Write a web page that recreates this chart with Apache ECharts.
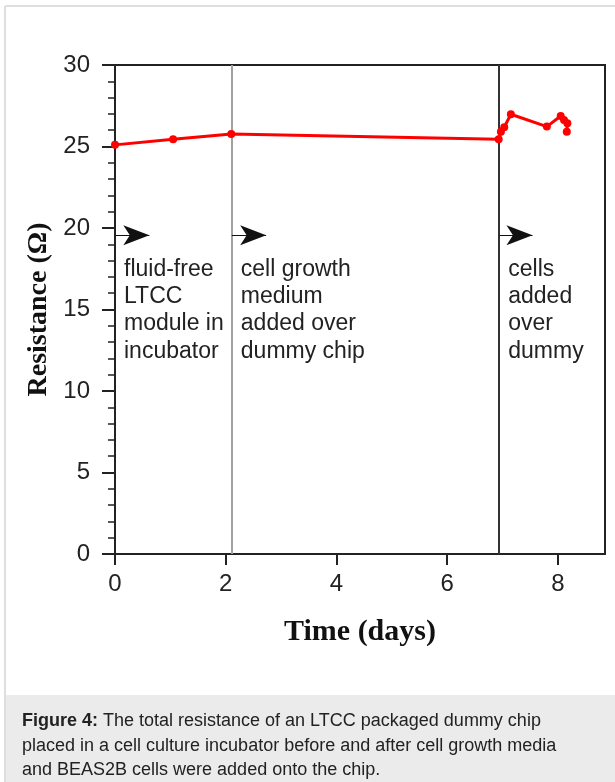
<!DOCTYPE html>
<html><head><meta charset="utf-8">
<script src="https://cdn.jsdelivr.net/npm/echarts@6/dist/echarts.min.js"></script>
<style>html,body{margin:0;padding:0;background:#fff}#c{width:615px;height:782px}</style>
</head><body><div id="c"></div><script>
// ---- data ----
const days = [0, 1.05, 2.1, 6.93, 6.97, 7.03, 7.15, 7.80, 8.05, 8.11, 8.17, 8.16];
const resistance = [25.1, 25.45, 25.77, 25.45, 25.9, 26.18, 26.98, 26.22, 26.87, 26.63, 26.43, 25.91];
const xTicks = [0, 2, 4, 6, 8];
const eventDays = [2.11, 6.94];
const eventColors = ['#a0a0a0', '#333333'];
const arrowStarts = [0, 2.11, 6.94];
const arrowEnds = [0.62, 2.73, 7.54];
const arrowLevel = 19.55;
const noteTopLevel = 18.3;
const noteLines = [
  ['fluid-free', 'LTCC', 'module in', 'incubator'],
  ['cell growth', 'medium', 'added over', 'dummy chip'],
  ['cells', 'added', 'over', 'dummy']
];
const xName = 'Time (days)';
const yName = 'Resistance (\u03A9)';
const captionBold = 'Figure 4:';
const captionRest = [' The total resistance of an LTCC packaged dummy chip',
  'placed in a cell culture incubator before and after cell growth media',
  'and BEAS2B cells were added onto the chip.'];

const chart = echarts.init(document.getElementById('c'), null, {renderer: 'canvas'});
const AX = '#222';
const sans = '"Liberation Sans", Arial, sans-serif';
const serif = '"Liberation Serif", "Times New Roman", serif';

const option = {
  animation: false,
  backgroundColor: '#fff',
  grid: {left: 115, top: 65, right: 10, bottom: 228, show: true, borderColor: AX, borderWidth: 2, backgroundColor: 'transparent'},
  xAxis: {
    type: 'value', min: 0, max: 8.85, interval: 2,
    axisLine: {show: true, lineStyle: {color: AX, width: 2}},
    axisTick: {show: true, length: 11, customValues: xTicks, lineStyle: {color: AX, width: 2}},
    axisLabel: {customValues: xTicks, fontSize: 24, color: AX, fontFamily: sans, margin: 18},
    splitLine: {show: false},
    name: xName, nameLocation: 'middle', nameGap: 63,
    nameTextStyle: {fontFamily: serif, fontWeight: 'bold', fontSize: 30, color: '#111'}
  },
  yAxis: {
    type: 'value', min: 0, max: 30, interval: 5,
    axisLine: {show: true, lineStyle: {color: AX, width: 2}},
    axisTick: {show: true, length: 13, lineStyle: {color: AX, width: 2}},
    minorTick: {show: true, splitNumber: 5, length: 7, lineStyle: {color: AX, width: 1.5}},
    axisLabel: {fontSize: 24, color: AX, fontFamily: sans, margin: 25},
    splitLine: {show: false},
    name: yName, nameLocation: 'middle', nameGap: 62,
    nameTextStyle: {fontFamily: serif, fontWeight: 'bold', fontSize: 28, color: '#111'}
  },
  series: [{
    type: 'line',
    data: days.map((d, i) => [d, resistance[i]]),
    lineStyle: {color: '#ff0000', width: 3},
    itemStyle: {color: '#ff0000'},
    symbol: 'circle', symbolSize: 8, showSymbol: true,
    z: 5,
    markLine: {
      silent: true, symbol: ['none', 'none'], label: {show: false},
      data: eventDays.map((d, i) => ({xAxis: d, lineStyle: {color: eventColors[i], width: 2, type: 'solid'}}))
    }
  }, {
    type: 'line', data: [],
    markLine: {
      silent: true, symbol: ['none', 'arrow'], symbolSize: [15, 26], label: {show: false},
      lineStyle: {color: '#111', width: 1, type: 'solid'},
      data: arrowStarts.map((s, i) => [{coord: [s, arrowLevel]}, {coord: [arrowEnds[i], arrowLevel]}])
    }
  }]
};
chart.setOption(option);

const graphics = [
  {type: 'rect', shape: {x: 5, y: 695, width: 610, height: 87}, style: {fill: '#ebebeb'}, z: -10},
  {type: 'line', shape: {x1: 5, y1: 6, x2: 615, y2: 6}, style: {stroke: '#dedede', lineWidth: 2}},
  {type: 'line', shape: {x1: 5, y1: 6, x2: 5, y2: 782}, style: {stroke: '#dedede', lineWidth: 2}},
  {type: 'text', x: 22, y: 709, style: {
    text: '{b|' + captionBold + '}' + captionRest[0] + '\n' + captionRest[1] + '\n' + captionRest[2],
    fontSize: 18, fontFamily: sans, fill: '#222', lineHeight: 24.5,
    rich: {b: {fontWeight: 'bold', fontSize: 18, fontFamily: sans, fill: '#222', lineHeight: 24.5}}
  }}
];
arrowStarts.forEach((s, i) => {
  const p = chart.convertToPixel({gridIndex: 0}, [s, noteTopLevel]);
  graphics.push({type: 'text', x: p[0] + 9, y: p[1], style: {
    text: noteLines[i].join('\n'), fontSize: 23, fontFamily: sans, fill: '#222', lineHeight: 27.3
  }});
});
chart.setOption({graphic: graphics});
</script></body></html>
